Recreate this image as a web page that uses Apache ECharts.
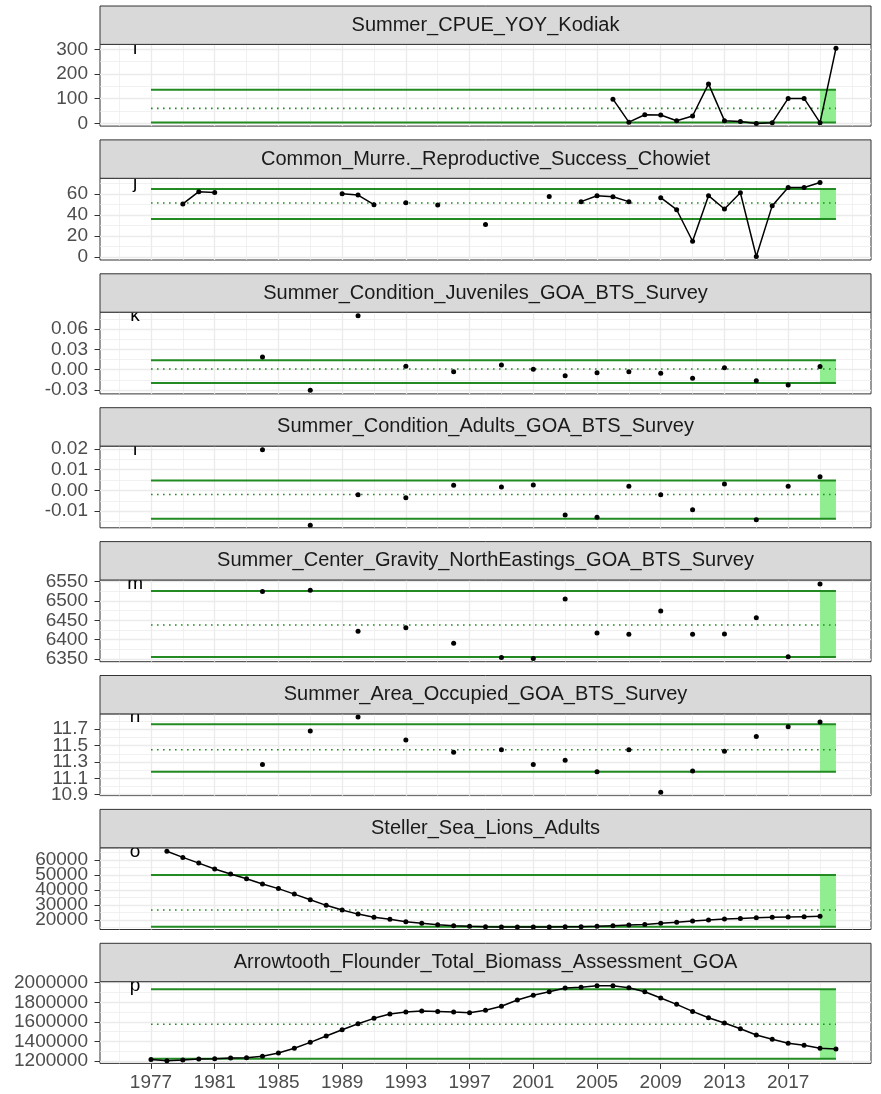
<!DOCTYPE html>
<html><head><meta charset="utf-8">
<script src="https://cdn.jsdelivr.net/npm/echarts@6/dist/echarts.min.js"></script>
<style>html,body{margin:0;padding:0;background:#fff}#c{width:881px;height:1094px}</style>
</head><body><div id="c"></div>
<script>
// ---------------- data ----------------
const panelTitles = [
  'Summer_CPUE_YOY_Kodiak',
  'Common_Murre._Reproductive_Success_Chowiet',
  'Summer_Condition_Juveniles_GOA_BTS_Survey',
  'Summer_Condition_Adults_GOA_BTS_Survey',
  'Summer_Center_Gravity_NorthEastings_GOA_BTS_Survey',
  'Summer_Area_Occupied_GOA_BTS_Survey',
  'Steller_Sea_Lions_Adults',
  'Arrowtooth_Flounder_Total_Biomass_Assessment_GOA'
];
const panelTags = ['i','j','k','l','m','n','o','p'];

const kodiakYears = [2006,2007,2008,2009,2010,2011,2012,2013,2014,2015,2016,2017,2018,2019,2020];
const kodiakValues = [98,5,35,34,11,30,160,11,8,0,3,101,101,3,304];

const murreYears = [1979,1980,1981,1989,1990,1991,1993,1995,1998,2002,2004,2005,2006,2007,2009,2010,2011,2012,2013,2014,2015,2016,2017,2018,2019];
const murreValues = [50.5,62.2,61.5,60.3,59,49.8,51.7,49.5,30.8,57.7,52.7,58.4,57.4,52.7,56.5,45,14.9,58.4,45.7,61.2,0.3,48.9,66.3,66.3,71];

const surveyYears = [1984,1987,1990,1993,1996,1999,2001,2003,2005,2007,2009,2011,2013,2015,2017,2019];
const juvConditionValues = [0.0189,-0.0307,0.080,0.0049,-0.003,0.007,0.0005,-0.0089,-0.0045,-0.003,-0.0055,-0.0129,0.003,-0.0163,-0.0228,0.0045];
const adultConditionValues = [0.0196,-0.0168,-0.0021,-0.0036,0.0025,0.0016,0.0026,-0.0118,-0.0129,0.002,-0.0021,-0.0093,0.0031,-0.0141,0.002,0.0065];
const centerGravityValues = [6525,6528,6422,6431,6391,6354,6351,6505,6417,6414,6474,6414,6415,6457,6356,6544];
const areaOccupiedValues = [11.27,11.68,11.85,11.57,11.42,11.45,11.27,11.32,11.18,11.45,10.93,11.19,11.43,11.61,11.73,11.79];

const sealionYears = [1978,1979,1980,1981,1982,1983,1984,1985,1986,1987,1988,1989,1990,1991,1992,1993,1994,1995,1996,1997,1998,1999,2000,2001,2002,2003,2004,2005,2006,2007,2008,2009,2010,2011,2012,2013,2014,2015,2016,2017,2018,2019];
const sealionValues = [65880,61790,57970,54080,50670,47470,44060,40930,37250,33430,29750,26610,23890,21840,20480,18840,17750,16800,16110,15700,15430,15230,15230,15230,15230,15430,15430,15700,16110,16530,16950,17750,18500,19300,20000,20600,21000,21400,21800,22000,22200,22400];

const arrowtoothYears = [1977,1978,1979,1980,1981,1982,1983,1984,1985,1986,1987,1988,1989,1990,1991,1992,1993,1994,1995,1996,1997,1998,1999,2000,2001,2002,2003,2004,2005,2006,2007,2008,2009,2010,2011,2012,2013,2014,2015,2016,2017,2018,2019,2020];
const arrowtoothValues = [1217000,1203000,1210000,1220000,1224000,1231000,1234000,1248000,1282000,1330000,1391000,1455000,1520000,1581000,1636000,1680000,1700000,1710000,1707000,1700000,1694000,1718000,1759000,1823000,1871000,1908000,1946000,1953000,1969000,1969000,1949000,1908000,1844000,1779000,1707000,1642000,1588000,1530000,1466000,1422000,1381000,1361000,1330000,1323000];

const upperLevels = [136, 64.8, 0.0138, 0.00475, 6526, 11.76, 50000, 1932600];
const meanLevels  = [61, 51.4, 0.001, -0.002, 6438, 11.45, 26600, 1575000];
const lowerLevels = [4, 36.2, -0.0198, -0.0137, 6355, 11.18, 15430, 1223000];

const yTickLabels = [
  [0,100,200,300],
  [0,20,40,60],
  [-0.03,0,0.03,0.06],
  [-0.01,0,0.01,0.02],
  [6350,6400,6450,6500,6550],
  [10.9,11.1,11.3,11.5,11.7],
  [20000,30000,40000,50000,60000],
  [1200000,1400000,1600000,1800000,2000000]
];
const yDecimals = [0,0,2,2,0,1,0,0];
const yRanges = [[-11,320],[-3,75],[-0.036,0.0853],[-0.018,0.0213],[6343,6554.5],[10.888,11.888],[13600,68200],[1176000,2010000]];

const xTickLabels = [1977,1981,1985,1989,1993,1997,2001,2005,2009,2013,2017];
const xMinorBreaks = [1975,1979,1983,1987,1991,1995,1999,2003,2007,2011,2015,2019,2021];
const xRange = [1973.8, 2022.2];
const refLineStart = 1977, refLineEnd = 2020;
const ribbonStart = 2019, ribbonEnd = 2020;
const tagYear = 1976;

// ---------------- build ----------------
const seriesData = [
  [kodiakYears, kodiakValues],
  [murreYears, murreValues],
  [surveyYears, juvConditionValues],
  [surveyYears, adultConditionValues],
  [surveyYears, centerGravityValues],
  [surveyYears, areaOccupiedValues],
  [sealionYears, sealionValues],
  [arrowtoothYears, arrowtoothValues]
];
function withGaps(years, vals) {
  const out = [];
  for (let i = 0; i < years.length; i++) {
    if (i > 0 && years[i] - years[i-1] > 1) out.push([years[i-1] + 1, null]);
    out.push([years[i], vals[i]]);
  }
  return out;
}
function minorOf(ticks, range) {
  const step = ticks[1] - ticks[0];
  const res = [];
  for (let k = -3; k <= ticks.length + 3; k++) {
    const v = ticks[0] + step * (k + 0.5);
    if (v > range[0] && v < range[1]) res.push(+v.toPrecision(10));
  }
  return res;
}

const FONT = '"Liberation Sans", Arial, sans-serif';
const GREEN = '#228B22';
const GRID_COLOR = '#EBEBEB';
const PANEL_LEFT = 100, PANEL_W = 771, STRIP_H = 38.4, PLOT_H = 81.7, STEP = 133.9, TOP0 = 6;

const grids = [], xAxes = [], yAxes = [], series = [], graphics = [];
panelTitles.forEach((title, i) => {
  const stripTop = TOP0 + STEP * i;
  const plotTop = stripTop + STRIP_H;
  const last = i === panelTitles.length - 1;
  grids.push({left: PANEL_LEFT, top: plotTop, width: PANEL_W, height: PLOT_H,
    show: true, borderColor: '#333333', borderWidth: 1, backgroundColor: '#ffffff', containLabel: false, outerBoundsMode: 'none'});
  graphics.push({type: 'rect', shape: {x: PANEL_LEFT, y: stripTop, width: PANEL_W, height: STRIP_H},
    style: {fill: '#D9D9D9', stroke: '#333333', lineWidth: 1}, z: 10});
  graphics.push({type: 'text', x: PANEL_LEFT + PANEL_W / 2, y: stripTop + STRIP_H / 2,
    style: {text: title, fill: '#1A1A1A', font: '20px ' + FONT, align: 'center', verticalAlign: 'middle', textAlign: 'center', textVerticalAlign: 'middle'}, z: 11});

  const labelStyle = {color: '#4D4D4D', fontSize: 19, fontFamily: FONT, showMinLabel: true, showMaxLabel: true, hideOverlap: false, interval: 0};

  // x axes: major (ticks, labels, major grid) + minor (minor grid)
  xAxes.push({type: 'value', gridIndex: i, min: xRange[0], max: xRange[1], position: 'bottom',
    axisLine: {show: false},
    axisTick: {show: last, customValues: xTickLabels, length: 5.5, lineStyle: {color: '#333333', width: 1}},
    axisLabel: Object.assign({show: last, customValues: xTickLabels, margin: 10,
      formatter: v => String(Math.round(v))}, labelStyle),
    splitLine: {show: true, lineStyle: {color: GRID_COLOR, width: 1.3}}, z: 1});
  xAxes.push({type: 'value', gridIndex: i, min: xRange[0], max: xRange[1], position: 'bottom',
    axisLine: {show: false}, axisLabel: {show: false},
    axisTick: {show: false, customValues: xMinorBreaks},
    splitLine: {show: true, lineStyle: {color: GRID_COLOR, width: 0.7}}, z: 0});

  const yr = yRanges[i];
  const dec = yDecimals[i];
  const ticks = yTickLabels[i];
  const evenLabels = ticks.filter((v, k) => k % 2 === 0);
  const oddLabels = ticks.filter((v, k) => k % 2 === 1);
  const fmt = v => Number(v).toFixed(dec);
  yAxes.push({type: 'value', gridIndex: i, min: yr[0], max: yr[1], position: 'left', offset: 0,
    axisLine: {show: false},
    axisTick: {show: true, customValues: ticks, length: 5.5, lineStyle: {color: '#333333', width: 1}},
    axisLabel: Object.assign({show: true, customValues: evenLabels, margin: 12, formatter: fmt}, labelStyle),
    splitLine: {show: true, lineStyle: {color: GRID_COLOR, width: 1.3}}, z: 1});
  yAxes.push({type: 'value', gridIndex: i, min: yr[0], max: yr[1], position: 'left', offset: 0,
    axisLine: {show: false},
    axisLabel: Object.assign({show: true, customValues: oddLabels, margin: 12, formatter: fmt}, labelStyle),
    axisTick: {show: false, customValues: minorOf(ticks, yr)},
    splitLine: {show: true, lineStyle: {color: GRID_COLOR, width: 0.7}}, z: 0});

  const xi = 2 * i, yi = 2 * i;
  series.push({type: 'line', xAxisIndex: xi, yAxisIndex: yi, silent: true, symbol: 'none', z: 3,
    data: [[refLineStart, upperLevels[i]], [refLineEnd, upperLevels[i]]],
    lineStyle: {color: GREEN, width: 2},
    markArea: {silent: true, itemStyle: {color: '#90EE90', opacity: 1},
      data: [[{coord: [ribbonStart, lowerLevels[i]]}, {coord: [ribbonEnd, upperLevels[i]]}]]}});
  series.push({type: 'line', xAxisIndex: xi, yAxisIndex: yi, silent: true, symbol: 'none', z: 3,
    data: [[refLineStart, meanLevels[i]], [refLineEnd, meanLevels[i]]],
    lineStyle: {color: GREEN, width: 1.6, type: [1.6, 4.4]}});
  series.push({type: 'line', xAxisIndex: xi, yAxisIndex: yi, silent: true, symbol: 'none', z: 3,
    data: [[refLineStart, lowerLevels[i]], [refLineEnd, lowerLevels[i]]],
    lineStyle: {color: GREEN, width: 2}});
  const [yrs, vals] = seriesData[i];
  series.push({type: 'line', xAxisIndex: xi, yAxisIndex: yi, silent: true, z: 4,
    data: withGaps(yrs, vals), connectNulls: false, showAllSymbol: true,
    symbol: 'circle', symbolSize: 5, itemStyle: {color: '#000000'},
    lineStyle: {color: '#000000', width: 1.5}, clip: false});
  const tag = panelTags[i];
  series.push({type: 'custom', xAxisIndex: xi, yAxisIndex: yi, silent: true, clip: true, z: 5,
    data: [[tagYear, Math.max(...vals)]],
    renderItem: (params, api) => {
      const p = api.coord([api.value(0), api.value(1)]);
      return {type: 'text', x: p[0], y: p[1],
        style: {text: tag, fill: '#000000', font: '19px ' + FONT, align: 'center', verticalAlign: 'middle', textAlign: 'center', textVerticalAlign: 'middle'}};
    }});
});

const chart = echarts.init(document.getElementById('c'), null, {renderer: 'canvas'});
chart.setOption({
  backgroundColor: '#ffffff',
  animation: false,
  grid: grids, xAxis: xAxes, yAxis: yAxes, series: series, graphic: graphics
});
</script></body></html>
